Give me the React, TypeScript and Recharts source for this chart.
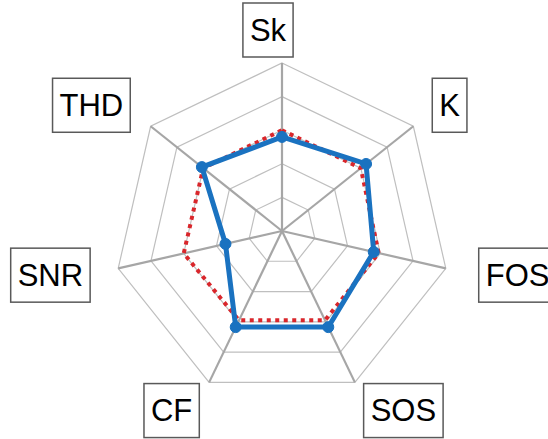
import React from "react";
import {
  PolarAngleAxis,
  PolarGrid,
  PolarRadiusAxis,
  Radar,
  RadarChart
} from "recharts";

const features = ["Sk", "K", "FOS", "SOS", "CF", "SNR", "THD"];
const measured = [0.56, 0.64, 0.56, 0.635, 0.635, 0.345, 0.61];
const baseline = [0.6, 0.6, 0.59, 0.59, 0.59, 0.6, 0.6];
const ringLevels = [0.2, 0.4, 0.6, 0.8, 1];

const data = features.map((name, i) => ({
  name,
  measured: measured[i],
  baseline: baseline[i]
}));

const OUTER = 168;

// label box nudges from the default tick point
const labelOffset: Record<string, [number, number]> = {
  Sk: [-14, -25],
  K: [30, -16],
  FOS: [64, 5],
  SOS: [45, 21],
  CF: [-34, 21],
  SNR: [-60, 5],
  THD: [-53, -16]
};

const charW: Record<string, number> = {
  S: 0.667, k: 0.5, K: 0.667, F: 0.611, O: 0.778, C: 0.722,
  N: 0.722, R: 0.722, T: 0.611, H: 0.722, D: 0.722
};

const FONT = 31;

function BoxTick(props: any) {
  const { x, y, payload } = props;
  const label: string = payload.value;
  const [dx, dy] = labelOffset[label] ?? [0, 0];
  const textW = label.split("").reduce((s, c) => s + (charW[c] ?? 0.6) * FONT, 0);
  const w = textW + 14;
  const h = 54;
  const cx = x + dx;
  const cy = y + dy;
  return (
    <g>
      <rect
        x={cx - w / 2}
        y={cy - h / 2}
        width={w}
        height={h}
        fill="#fff"
        stroke="#595959"
        strokeWidth={1.5}
      />
      <text
        x={cx}
        y={cy}
        textAnchor="middle"
        dominantBaseline="central"
        fontSize={FONT}
        fontFamily="Liberation Sans, Arial, sans-serif"
        fill="#000"
      >
        {label}
      </text>
    </g>
  );
}

export default function App() {
  return (
    <div style={{ position: "absolute", left: 0, top: 0, width: 548, height: 439, background: "#fff" }}>
      <RadarChart
        width={548}
        height={439}
        data={data}
        cx={282}
        cy={231}
        outerRadius={OUTER}
        margin={{ top: 0, right: 0, bottom: 0, left: 0 }}
      >
        <PolarGrid
          gridType="polygon"
          radialLines={false}
          polarRadius={ringLevels.map((v) => v * OUTER)}
          stroke="#bfbfbf"
          strokeWidth={1.2}
        />
        <PolarGrid gridType="polygon" polarRadius={[]} stroke="#a6a6a6" strokeWidth={2.2} />
        <PolarRadiusAxis domain={[0, 1]} tickCount={6} tick={false} axisLine={false} />
        <PolarAngleAxis dataKey="name" tick={<BoxTick />} tickLine={false} axisLine={false} />
        <Radar
          dataKey="baseline"
          stroke="#d9262b"
          strokeWidth={4}
          strokeDasharray="4 4.5"
          fill="none"
          fillOpacity={0}
          dot={false}
          isAnimationActive={false}
        />
        <Radar
          dataKey="measured"
          stroke="#1a72c0"
          strokeWidth={5}
          fill="none"
          fillOpacity={0}
          dot={{ r: 5.5, fill: "#1a72c0", stroke: "#1a72c0", strokeWidth: 1, fillOpacity: 1 }}
          isAnimationActive={false}
        />
      </RadarChart>
    </div>
  );
}
